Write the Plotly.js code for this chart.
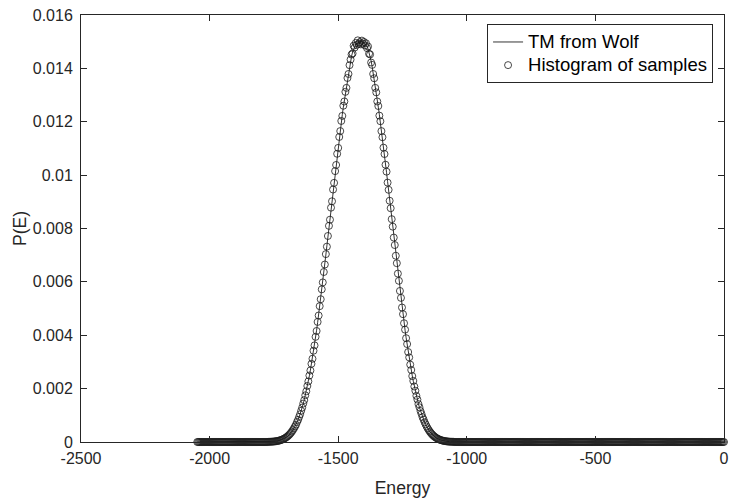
<!DOCTYPE html>
<html>
<head>
<meta charset="utf-8">
<script src="https://cdn.plot.ly/plotly-3.0.1.min.js"></script>
<style>html,body{margin:0;padding:0;background:#fff;}#chart{width:730px;height:502px;}</style>
</head>
<body>
<div id="chart"></div>
<script>
// Energy grid (x values)
const energy = [
-2048,-2044,-2040,-2036,-2032,-2028,-2024,-2020,-2016,-2012,-2008,-2004,-2000,-1996,-1992,-1988,
-1984,-1980,-1976,-1972,-1968,-1964,-1960,-1956,-1952,-1948,-1944,-1940,-1936,-1932,-1928,-1924,
-1920,-1916,-1912,-1908,-1904,-1900,-1896,-1892,-1888,-1884,-1880,-1876,-1872,-1868,-1864,-1860,
-1856,-1852,-1848,-1844,-1840,-1836,-1832,-1828,-1824,-1820,-1816,-1812,-1808,-1804,-1800,-1796,
-1792,-1788,-1784,-1780,-1776,-1772,-1768,-1764,-1760,-1756,-1752,-1748,-1744,-1740,-1736,-1732,
-1728,-1724,-1720,-1716,-1712,-1708,-1704,-1700,-1696,-1692,-1688,-1684,-1680,-1676,-1672,-1668,
-1664,-1660,-1656,-1652,-1648,-1644,-1640,-1636,-1632,-1628,-1624,-1620,-1616,-1612,-1608,-1604,
-1600,-1596,-1592,-1588,-1584,-1580,-1576,-1572,-1568,-1564,-1560,-1556,-1552,-1548,-1544,-1540,
-1536,-1532,-1528,-1524,-1520,-1516,-1512,-1508,-1504,-1500,-1496,-1492,-1488,-1484,-1480,-1476,
-1472,-1468,-1464,-1460,-1456,-1452,-1448,-1444,-1440,-1436,-1432,-1428,-1424,-1420,-1416,-1412,
-1408,-1404,-1400,-1396,-1392,-1388,-1384,-1380,-1376,-1372,-1368,-1364,-1360,-1356,-1352,-1348,
-1344,-1340,-1336,-1332,-1328,-1324,-1320,-1316,-1312,-1308,-1304,-1300,-1296,-1292,-1288,-1284,
-1280,-1276,-1272,-1268,-1264,-1260,-1256,-1252,-1248,-1244,-1240,-1236,-1232,-1228,-1224,-1220,
-1216,-1212,-1208,-1204,-1200,-1196,-1192,-1188,-1184,-1180,-1176,-1172,-1168,-1164,-1160,-1156,
-1152,-1148,-1144,-1140,-1136,-1132,-1128,-1124,-1120,-1116,-1112,-1108,-1104,-1100,-1096,-1092,
-1088,-1084,-1080,-1076,-1072,-1068,-1064,-1060,-1056,-1052,-1048,-1044,-1040,-1036,-1032,-1028,
-1024,-1020,-1016,-1012,-1008,-1004,-1000,-996,-992,-988,-984,-980,-976,-972,-968,-964,
-960,-956,-952,-948,-944,-940,-936,-932,-928,-924,-920,-916,-912,-908,-904,-900,
-896,-892,-888,-884,-880,-876,-872,-868,-864,-860,-856,-852,-848,-844,-840,-836,
-832,-828,-824,-820,-816,-812,-808,-804,-800,-796,-792,-788,-784,-780,-776,-772,
-768,-764,-760,-756,-752,-748,-744,-740,-736,-732,-728,-724,-720,-716,-712,-708,
-704,-700,-696,-692,-688,-684,-680,-676,-672,-668,-664,-660,-656,-652,-648,-644,
-640,-636,-632,-628,-624,-620,-616,-612,-608,-604,-600,-596,-592,-588,-584,-580,
-576,-572,-568,-564,-560,-556,-552,-548,-544,-540,-536,-532,-528,-524,-520,-516,
-512,-508,-504,-500,-496,-492,-488,-484,-480,-476,-472,-468,-464,-460,-456,-452,
-448,-444,-440,-436,-432,-428,-424,-420,-416,-412,-408,-404,-400,-396,-392,-388,
-384,-380,-376,-372,-368,-364,-360,-356,-352,-348,-344,-340,-336,-332,-328,-324,
-320,-316,-312,-308,-304,-300,-296,-292,-288,-284,-280,-276,-272,-268,-264,-260,
-256,-252,-248,-244,-240,-236,-232,-228,-224,-220,-216,-212,-208,-204,-200,-196,
-192,-188,-184,-180,-176,-172,-168,-164,-160,-156,-152,-148,-144,-140,-136,-132,
-128,-124,-120,-116,-112,-108,-104,-100,-96,-92,-88,-84,-80,-76,-72,-68,
-64,-60,-56,-52,-48,-44,-40,-36,-32,-28,-24,-20,-16,-12,-8,-4,
0];

// "TM from Wolf" curve values P(E)
const tmP = [
0,0,0,0,0,0,0,0,0,0,0,0,0,0,0,0,
0,0,0,0,0,0,0,0,0,0,0,0,0,0,0,0,
0,0,0,0,0,0,0,0,0,0,0,0,0,0,0,0,
0,0,0,0,0,0,0,0,0,0,0,0,0,0,0,0,
0,0,0,0,0,0.000006,0.000007,0.000009,0.000011,0.000014,0.000017,0.000021,0.000026,0.000032,0.000039,0.000047,
0.000057,0.000069,0.000082,0.000098,0.000116,0.000137,0.000161,0.000189,0.000220,0.000256,0.000296,0.000341,0.000392,0.000449,0.000511,0.000581,
0.000658,0.000742,0.000835,0.000935,0.001045,0.001164,0.001292,0.001430,0.001579,0.001737,0.001907,0.002087,0.002277,0.002479,0.002691,0.002915,
0.003149,0.003393,0.003648,0.003913,0.004187,0.004471,0.004764,0.005064,0.005373,0.005689,0.006011,0.006339,0.006672,0.007009,0.007350,0.007693,
0.008038,0.008384,0.008730,0.009075,0.009418,0.009758,0.010094,0.010426,0.010752,0.011073,0.011385,0.011690,0.011985,0.012271,0.012546,0.012809,
0.013061,0.013320,0.013580,0.013840,0.014070,0.014280,0.014460,0.014610,0.014730,0.014820,0.014890,0.014935,0.014965,0.014985,0.014995,0.015000,
0.014995,0.014985,0.014965,0.014935,0.014890,0.014820,0.014730,0.014610,0.014460,0.014280,0.014070,0.013840,0.013580,0.013320,0.013061,0.012809,
0.012546,0.012271,0.011985,0.011690,0.011385,0.011073,0.010752,0.010426,0.010094,0.009758,0.009418,0.009075,0.008730,0.008384,0.008038,0.007693,
0.007350,0.007009,0.006672,0.006339,0.006011,0.005689,0.005373,0.005064,0.004764,0.004471,0.004187,0.003913,0.003648,0.003393,0.003149,0.002915,
0.002691,0.002479,0.002277,0.002087,0.001907,0.001737,0.001579,0.001430,0.001292,0.001164,0.001045,0.000935,0.000835,0.000742,0.000658,0.000581,
0.000511,0.000449,0.000392,0.000341,0.000296,0.000256,0.000220,0.000189,0.000161,0.000137,0.000116,0.000098,0.000082,0.000069,0.000057,0.000047,
0.000039,0.000032,0.000026,0.000021,0.000017,0.000014,0.000011,0.000009,0.000007,0.000006,0,0,0,0,0,0,
0,0,0,0,0,0,0,0,0,0,0,0,0,0,0,0,
0,0,0,0,0,0,0,0,0,0,0,0,0,0,0,0,
0,0,0,0,0,0,0,0,0,0,0,0,0,0,0,0,
0,0,0,0,0,0,0,0,0,0,0,0,0,0,0,0,
0,0,0,0,0,0,0,0,0,0,0,0,0,0,0,0,
0,0,0,0,0,0,0,0,0,0,0,0,0,0,0,0,
0,0,0,0,0,0,0,0,0,0,0,0,0,0,0,0,
0,0,0,0,0,0,0,0,0,0,0,0,0,0,0,0,
0,0,0,0,0,0,0,0,0,0,0,0,0,0,0,0,
0,0,0,0,0,0,0,0,0,0,0,0,0,0,0,0,
0,0,0,0,0,0,0,0,0,0,0,0,0,0,0,0,
0,0,0,0,0,0,0,0,0,0,0,0,0,0,0,0,
0,0,0,0,0,0,0,0,0,0,0,0,0,0,0,0,
0,0,0,0,0,0,0,0,0,0,0,0,0,0,0,0,
0,0,0,0,0,0,0,0,0,0,0,0,0,0,0,0,
0,0,0,0,0,0,0,0,0,0,0,0,0,0,0,0,
0];

// "Histogram of samples" values P(E)
const histP = [
0,0,0,0,0,0,0,0,0,0,0,0,0,0,0,0,
0,0,0,0,0,0,0,0,0,0,0,0,0,0,0,0,
0,0,0,0,0,0,0,0,0,0,0,0,0,0,0,0,
0,0,0,0,0,0,0,0,0,0,0,0,0,0,0,0,
0,0,0,0,0,0.000006,0.000007,0.000009,0.000011,0.000014,0.000017,0.000021,0.000026,0.000032,0.000039,0.000047,
0.000057,0.000069,0.000082,0.000098,0.000116,0.000137,0.000161,0.000189,0.000220,0.000256,0.000296,0.000341,0.000392,0.000449,0.000511,0.000581,
0.00065,0.00075,0.00083,0.00094,0.00104,0.00117,0.00129,0.00144,0.00157,0.00175,0.00190,0.00210,0.00227,0.00249,0.00268,0.00293,
0.00312,0.00342,0.00362,0.00394,0.00416,0.00450,0.00474,0.00509,0.00535,0.00572,0.00598,0.00637,0.00665,0.00704,0.00732,0.00772,
0.00810,0.00833,0.00878,0.00902,0.00946,0.00971,0.01015,0.01038,0.01080,0.01102,0.01143,0.01165,0.01203,0.01222,0.01260,0.01276,
0.01312,0.01327,0.01364,0.01379,0.01412,0.01433,0.01452,0.01456,0.01485,0.01478,0.01495,0.01488,0.01505,0.01492,0.01498,0.01490,
0.01504,0.01493,0.01499,0.01486,0.01494,0.01476,0.01482,0.01455,0.01452,0.01422,0.01413,0.01379,0.01363,0.01327,0.01310,0.01276,
0.01259,0.01223,0.01202,0.01165,0.01142,0.01103,0.01079,0.01039,0.01013,0.00972,0.00945,0.00904,0.00876,0.00835,0.00807,0.00766,
0.00738,0.00698,0.00670,0.00631,0.00604,0.00566,0.00540,0.00504,0.00479,0.00445,0.00421,0.00389,0.00367,0.00337,0.00317,0.00290,
0.00270,0.00247,0.00229,0.00208,0.00192,0.00173,0.00159,0.00142,0.00130,0.00116,0.00105,0.00093,0.00084,0.00074,0.00066,0.00058,
0.000511,0.000449,0.000392,0.000341,0.000296,0.000256,0.000220,0.000189,0.000161,0.000137,0.000116,0.000098,0.000082,0.000069,0.000057,0.000047,
0.000039,0.000032,0.000026,0.000021,0.000017,0.000014,0.000011,0.000009,0.000007,0.000006,0,0,0,0,0,0,
0,0,0,0,0,0,0,0,0,0,0,0,0,0,0,0,
0,0,0,0,0,0,0,0,0,0,0,0,0,0,0,0,
0,0,0,0,0,0,0,0,0,0,0,0,0,0,0,0,
0,0,0,0,0,0,0,0,0,0,0,0,0,0,0,0,
0,0,0,0,0,0,0,0,0,0,0,0,0,0,0,0,
0,0,0,0,0,0,0,0,0,0,0,0,0,0,0,0,
0,0,0,0,0,0,0,0,0,0,0,0,0,0,0,0,
0,0,0,0,0,0,0,0,0,0,0,0,0,0,0,0,
0,0,0,0,0,0,0,0,0,0,0,0,0,0,0,0,
0,0,0,0,0,0,0,0,0,0,0,0,0,0,0,0,
0,0,0,0,0,0,0,0,0,0,0,0,0,0,0,0,
0,0,0,0,0,0,0,0,0,0,0,0,0,0,0,0,
0,0,0,0,0,0,0,0,0,0,0,0,0,0,0,0,
0,0,0,0,0,0,0,0,0,0,0,0,0,0,0,0,
0,0,0,0,0,0,0,0,0,0,0,0,0,0,0,0,
0,0,0,0,0,0,0,0,0,0,0,0,0,0,0,0,
0];

const seriesNames = ["TM from Wolf", "Histogram of samples"];
const xTickVals = [-2500, -2000, -1500, -1000, -500, 0];
const xTickText = ["-2500", "-2000", "-1500", "-1000", "-500", "0"];
const yTickVals = [0, 0.002, 0.004, 0.006, 0.008, 0.01, 0.012, 0.014, 0.016];
const yTickText = ["0", "0.002", "0.004", "0.006", "0.008", "0.01", "0.012", "0.014", "0.016"];

const axisColor = "#262626";
const fontFamily = "Liberation Sans, Arial, Helvetica, sans-serif";
const legendName = (s) => '<span style="font-size:18.5px">' + s + '</span>';

const traces = [
  {
    x: energy, y: tmP, name: legendName(seriesNames[0]), type: "scatter", mode: "lines",
    line: {color: "#000000", width: 0.8}, cliponaxis: false
  },
  {
    x: energy, y: histP, name: legendName(seriesNames[1]), type: "scatter", mode: "markers",
    marker: {symbol: "circle-open", size: 7, color: "#1a1a1a", line: {width: 0.8, color: "#1a1a1a"}},
    cliponaxis: false
  }
];

const axisCommon = {
  showline: true, linecolor: axisColor, linewidth: 1, mirror: "ticks",
  ticks: "inside", ticklen: 6, tickwidth: 1, tickcolor: axisColor,
  showgrid: false, zeroline: false,
  tickfont: {family: fontFamily, size: 16, color: axisColor}
};

const layout = {
  width: 730, height: 502,
  margin: {l: 81, r: 6, t: 15, b: 60},
  paper_bgcolor: "#ffffff", plot_bgcolor: "#ffffff",
  font: {family: fontFamily, size: 16, color: axisColor},
  showlegend: true,
  xaxis: Object.assign({}, axisCommon, {
    range: [-2500, 0], tickmode: "array", tickvals: xTickVals, ticktext: xTickText,
    ticklabelstandoff: 2,
    title: {text: "Energy", font: {family: fontFamily, size: 17.6, color: axisColor}, standoff: 15}
  }),
  yaxis: Object.assign({}, axisCommon, {
    range: [0, 0.016], tickmode: "array", tickvals: yTickVals, ticktext: yTickText,
    ticklabelstandoff: 4,
    title: {text: "P(E)", font: {family: fontFamily, size: 17.6, color: axisColor}, standoff: 1}
  }),
  legend: {
    x: 0.983, xanchor: "right", y: 0.978, yanchor: "top",
    bgcolor: "#ffffff", bordercolor: axisColor, borderwidth: 1,
    font: {family: fontFamily, size: 15.5, color: "#000000"},
    tracegroupgap: 0
  }
};

Plotly.newPlot("chart", traces, layout, {staticPlot: true, displayModeBar: false});
</script>
</body>
</html>
